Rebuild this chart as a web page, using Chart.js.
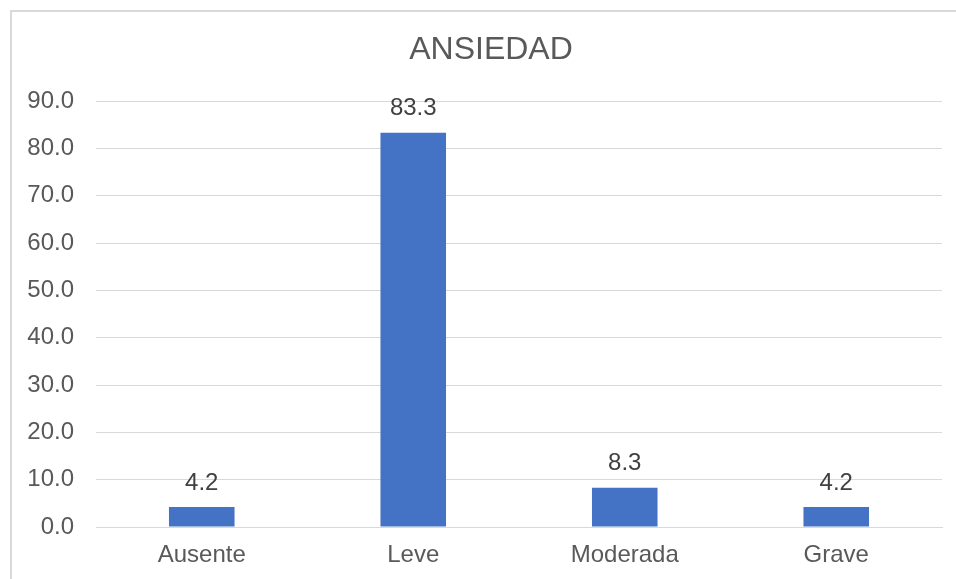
<!DOCTYPE html>
<html>
<head>
<meta charset="utf-8">
<script src="https://cdn.jsdelivr.net/npm/chart.js@4.4.1/dist/chart.umd.min.js"></script>
<style>
  body { margin: 0; background: #fff; overflow: hidden; }
  #wrap { position: relative; width: 956px; height: 579px; }
  #frame { position: absolute; left: 10px; top: 10px; width: 1000px; height: 1000px; border: 2px solid #d9d9d9; box-sizing: border-box; }
  canvas { position: absolute; left: 0; top: 0; }
</style>
</head>
<body>
<div id="wrap">
  <div id="frame"></div>
  <canvas id="myChart" width="956" height="579"></canvas>
</div>
<script>
const categories = ['Ausente', 'Leve', 'Moderada', 'Grave'];
const values = [4.2, 83.3, 8.3, 4.2];
const chartTitle = 'ANSIEDAD';

const FONT = '"Liberation Sans", Arial, sans-serif';

// value labels above each bar + title centred on the whole frame
const barLabels = {
    id: 'barLabels',
    afterDatasetsDraw(chart) {
        const ctx = chart.ctx;
        const meta = chart.getDatasetMeta(0);
        ctx.save();
        ctx.font = '24px ' + FONT;
        ctx.fillStyle = '#404040';
        ctx.textAlign = 'center';
        ctx.textBaseline = 'middle';
        meta.data.forEach(function(bar, i) {
            ctx.fillText(values[i].toFixed(1), bar.x, bar.y - 24);
        });
        ctx.font = '32px ' + FONT;
        ctx.fillStyle = '#595959';
        ctx.fillText(chartTitle, 491, 50);
        ctx.restore();
    }
};

const ctx = document.getElementById('myChart').getContext('2d');
const chart = new Chart(ctx, {
    type: 'bar',
    data: {
        labels: categories,
        datasets: [{
            data: values,
            backgroundColor: '#4472c4',
            barPercentage: 0.31,
            categoryPercentage: 1
        }]
    },
    options: {
        responsive: false,
        animation: false,
        layout: { padding: { left: 20, right: 14, top: 101, bottom: 0 } },
        plugins: {
            legend: { display: false },
            tooltip: { enabled: false },
            title: { display: false }
        },
        scales: {
            x: {
                afterFit: function(scale) { scale.height = 52; },
                grid: { display: false, drawTicks: false },
                border: { display: true, color: '#d9d9d9' },
                ticks: {
                    color: '#595959',
                    padding: 14,
                    font: { family: FONT, size: 24 }
                }
            },
            y: {
                min: 0,
                max: 90,
                afterFit: function(scale) { scale.width = 76; },
                grid: { color: '#d9d9d9', drawTicks: false },
                border: { display: false },
                ticks: {
                    stepSize: 10,
                    color: '#595959',
                    padding: 22,
                    font: { family: FONT, size: 24 },
                    callback: function(v) { return v.toFixed(1); }
                }
            }
        }
    },
    plugins: [barLabels]
});
</script>
</body>
</html>
